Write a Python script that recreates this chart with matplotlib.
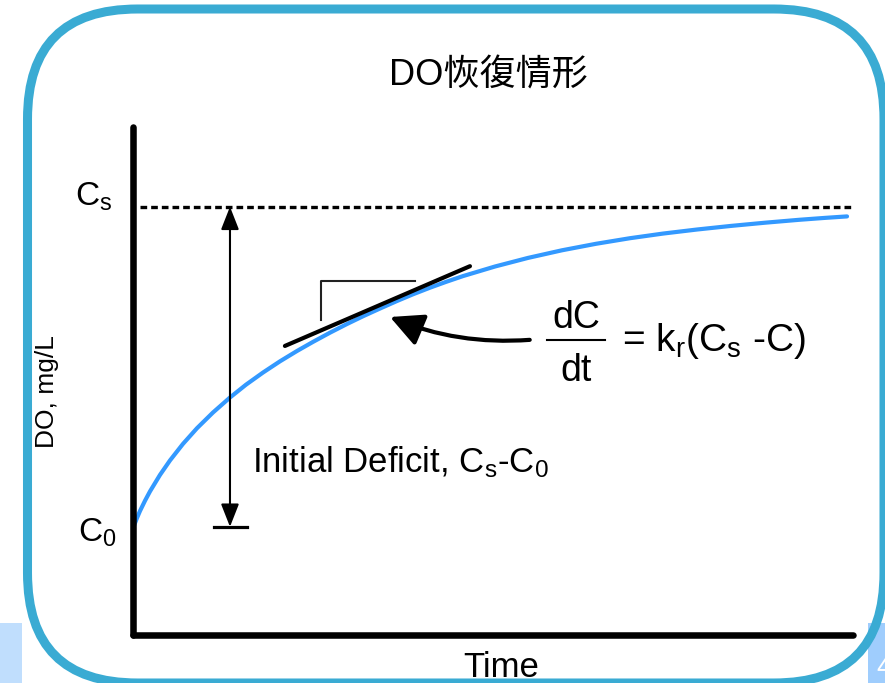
import matplotlib
matplotlib.use("Agg")
import matplotlib.pyplot as plt
from matplotlib.patches import FancyBboxPatch, Rectangle, FancyArrowPatch

plt.rcParams['font.family'] = ['Liberation Sans', 'Noto Sans CJK TC', 'DejaVu Sans']
plt.rcParams['mathtext.fontset'] = 'custom'
plt.rcParams['mathtext.rm'] = 'Liberation Sans'
plt.rcParams['mathtext.it'] = 'Liberation Sans:italic'
plt.rcParams['mathtext.bf'] = 'Liberation Sans:bold'

# recovery curve (time units, DO units)
time = [0.014, 0.056, 0.097, 0.167, 0.236, 0.375, 0.514, 0.694, 0.889,
        1.111, 1.347, 1.569, 1.806, 2.042, 2.278, 2.50, 2.736, 2.972,
        3.194, 3.431, 3.667, 3.889, 4.125, 4.347, 4.583, 5.028, 5.486,
        5.958, 6.431, 6.903, 7.361, 7.833, 8.306, 8.778, 9.25, 9.611, 9.917]
do_curve = [2.152, 2.305, 2.441, 2.644, 2.827, 3.152, 3.437, 3.762, 4.071,
            4.380, 4.675, 4.927, 5.167, 5.388, 5.591, 5.770, 5.951, 6.122,
            6.274, 6.427, 6.575, 6.707, 6.837, 6.951, 7.065, 7.254, 7.423,
            7.573, 7.701, 7.811, 7.902, 7.982, 8.053, 8.116, 8.173, 8.211,
            8.240]
c_sat = 8.43
c_zero = 2.13

# tangent and slope bracket
tangent_t = [2.11, 4.68]
tangent_do = [5.69, 7.26]
bracket_t = [2.61, 2.61, 3.92]
bracket_do = [6.20, 6.97, 6.97]

# deficit arrow and pointer arrow
deficit_t = 1.347
deficit_bar_t = [1.125, 1.58]
pointer_tail = (5.51, 5.81)
pointer_tip = (3.57, 6.26)

fig = plt.figure(figsize=(8.85, 6.83), dpi=100)

# background layer in pixel coordinates (slide frame)
bg = fig.add_axes([0, 0, 1, 1])
bg.set_xlim(0, 885)
bg.set_ylim(683, 0)
bg.axis('off')
bg.add_patch(Rectangle((0, 623), 22, 60, color='#c0defd', lw=0))
bg.add_patch(Rectangle((868, 623), 17, 60, color='#9fcdfd', lw=0))
bg.text(876, 668, '4', color='white', fontsize=20, va='center', ha='left')
bg.add_patch(FancyBboxPatch((27.5, 9), 856.5, 674,
                            boxstyle='round,pad=0,rounding_size=110',
                            fill=False, ec='#3aabd3', lw=6.5))

# chart
ax = fig.add_axes([133 / 885, 48 / 683, 720 / 885, 508 / 683])
ax.set_facecolor('none')
ax.set_xlim(0, 10)
ax.set_ylim(0, 10)
for s in ['top', 'right']:
    ax.spines[s].set_visible(False)
for s in ['left', 'bottom']:
    ax.spines[s].set_linewidth(4.7)
    ax.spines[s].set_capstyle('round')
ax.set_xticks([])
ax.set_yticks([])

ax.plot([0.1, 10], [c_sat, c_sat], color='black', lw=2.4,
        dashes=(2, 1.2), dash_capstyle='butt', clip_on=False)
ax.plot(time, do_curve, color='#3399ff', lw=3, clip_on=False,
        solid_joinstyle='round', solid_capstyle='round')
ax.plot(tangent_t, tangent_do, color='black', lw=3, solid_capstyle='round')
ax.plot(bracket_t, bracket_do, color='#222222', lw=1.5)

ax.annotate('', xy=(deficit_t, c_zero), xytext=(deficit_t, c_sat),
            arrowprops=dict(arrowstyle='<|-|>,head_length=1.4,head_width=0.55',
                            color='black', lw=1.5, shrinkA=0, shrinkB=0))
ax.plot(deficit_bar_t, [c_zero, c_zero], color='black', lw=2.3)

ax.add_patch(FancyArrowPatch(pointer_tail, pointer_tip,
                             connectionstyle='arc3,rad=-0.12',
                             arrowstyle='-|>,head_length=2.0,head_width=1.0',
                             mutation_scale=10, lw=3, color='black',
                             shrinkA=0, shrinkB=0))

# texts (pixel positions on the slide)
bg.text(488, 76, 'DO恢復情形', fontsize=26, ha='center', va='center',
        family=['Liberation Sans', 'Noto Sans CJK TC', 'DejaVu Sans'])
bg.text(112, 206, r'C$_\mathrm{s}$', fontsize=24, ha='right', va='baseline')
bg.text(78, 542, r'C$_\mathrm{0}$', fontsize=24, ha='left', va='baseline')
bg.text(47, 392, 'DO, mg/L', fontsize=19, rotation=90, ha='center',
        va='center')
bg.text(501, 677, 'Time', fontsize=25, ha='center', va='baseline')
bg.text(252, 472, r'Initial Deficit, C$_\mathrm{s}$-C$_\mathrm{0}$',
        fontsize=25, ha='left', va='baseline')

bg.text(576, 328, 'dC', fontsize=27, ha='center', va='baseline')
bg.plot([547, 605], [340, 340], color='black', lw=1.5)
bg.text(576, 381, 'dt', fontsize=27, ha='center', va='baseline')
bg.text(622, 351, r'= k$_\mathrm{r}$(C$_\mathrm{s}$ -C)', fontsize=28,
        ha='left', va='baseline')

fig.savefig('out.png', dpi=100)
